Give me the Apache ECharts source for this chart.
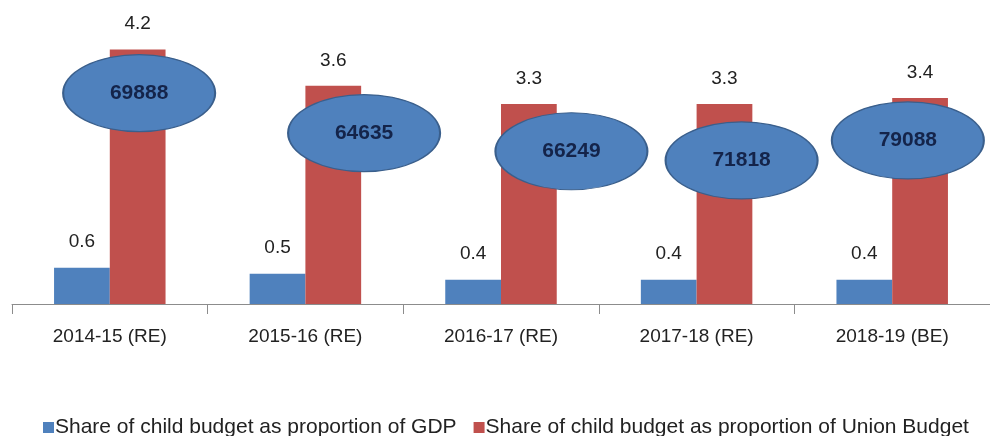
<!DOCTYPE html>
<html><head><meta charset="utf-8">
<script src="https://cdn.jsdelivr.net/npm/echarts@6/dist/echarts.min.js"></script>
<style>html,body{margin:0;padding:0;background:#fff}#c{width:990px;height:436px}</style>
</head><body><div id="c"></div>
<script>
const categories = ['2014-15 (RE)', '2015-16 (RE)', '2016-17 (RE)', '2017-18 (RE)', '2018-19 (BE)'];
const gdpShare = [0.6, 0.5, 0.4, 0.4, 0.4];
const unionShare = [4.2, 3.6, 3.3, 3.3, 3.4];
const budgetAmounts = [69888, 64635, 66249, 71818, 79088];
// callout placement in data units: x along the category band (0..5), y on value axis
const calloutX = [0.65, 1.80, 2.86, 3.73, 4.58];
const calloutY = [3.48, 2.82, 2.52, 2.37, 2.70];
const seriesNames = ['Share of child budget as proportion of GDP', 'Share of child budget as proportion of Union Budget'];

const FONT = 'Liberation Sans';
const chart = echarts.init(document.getElementById('c'));
chart.setOption({
  animation: false,
  textStyle: { fontFamily: FONT },
  grid: { left: 12, width: 985, top: 1, bottom: 132 },
  legend: {
    data: seriesNames,
    left: 38, top: 412,
    itemWidth: 11, itemHeight: 11, itemGap: 17,
    icon: 'rect',
    textStyle: { fontSize: 21, color: '#222', fontFamily: FONT, padding: [0, 0, 0, -4] }
  },
  xAxis: [{
    type: 'category', data: categories,
    axisLine: { lineStyle: { color: '#8c8c8c', width: 1 } },
    axisTick: { show: true, length: 10, lineStyle: { color: '#8c8c8c' } },
    axisLabel: { fontSize: 19, color: '#222', margin: 23, fontFamily: FONT }
  }, {
    type: 'value', min: 0, max: 5, show: false
  }],
  yAxis: { type: 'value', min: 0, max: 5, show: false, splitLine: { show: false } },
  series: [{
    name: seriesNames[0], type: 'bar', data: gdpShare,
    barGap: '0%', barCategoryGap: '43%',
    itemStyle: { color: '#4F81BD' },
    label: { show: true, position: 'top', distance: 16, fontSize: 19, color: '#222', fontFamily: FONT }
  }, {
    name: seriesNames[1], type: 'bar', data: unionShare,
    itemStyle: { color: '#C0504D' },
    label: { show: true, position: 'top', distance: 16, fontSize: 19, color: '#222', fontFamily: FONT }
  }, {
    type: 'scatter', xAxisIndex: 1, z: 5,
    data: budgetAmounts.map((v, i) => ({ value: [calloutX[i], calloutY[i]], amount: v })),
    symbol: 'circle', symbolSize: [152, 77],
    itemStyle: { color: '#4F81BD', opacity: 1, borderColor: '#3A5F8C', borderWidth: 1.5 },
    label: {
      show: true, position: 'inside',
      formatter: p => String(budgetAmounts[p.dataIndex]),
      fontSize: 21, fontWeight: 'bold', color: '#14244A', fontFamily: FONT
    },
    emphasis: { disabled: true }, silent: true
  }]
});
</script></body></html>
